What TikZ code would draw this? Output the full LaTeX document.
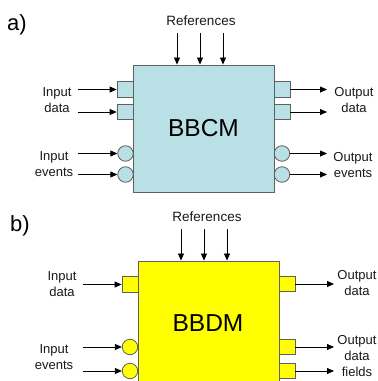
\documentclass[tikz,border=0pt]{standalone}
\usepackage{fontspec}
\setmainfont{Liberation Sans}
\usetikzlibrary{arrows.meta}
\definecolor{bbcm}{RGB}{185,224,228}
\definecolor{bbdm}{RGB}{255,255,0}
\definecolor{edge}{RGB}{95,95,95}
\definecolor{txt}{RGB}{25,25,25}
\begin{document}
\begin{tikzpicture}[x=1pt,y=-1pt,
  lbl/.style={inner sep=0pt, align=center, anchor=north, text=txt, font=\fontsize{13}{16}\selectfont},
  reflbl/.style={inner sep=0pt, text=txt, font=\fontsize{13.5}{16}\selectfont},
  tag/.style={inner sep=0pt, anchor=base west, text=black, font=\fontsize{22}{24}\selectfont},
  block/.style={draw=edge, line width=0.9pt, minimum width=141pt, minimum height=127pt, inner sep=0pt, font=\fontsize{24.5}{28}\selectfont},
  bigtxt/.style={inner sep=0pt, font=\fontsize{24.5}{28}\selectfont},
  sqport/.style={draw=edge, line width=0.8pt, minimum width=16pt, minimum height=15.5pt, inner sep=0pt},
  ciport/.style={draw=edge, line width=0.8pt, circle, minimum size=15.5pt, inner sep=0pt},
  arr/.style={-{Triangle[length=7pt,width=6pt]}, line width=0.8pt, draw=black}
]
\useasboundingbox (0,0) rectangle (378,381);
\clip (0,0) rectangle (378,381);
\fill[white] (0,0) rectangle (378,381);

% ---------- a) ----------
\node[tag] (ta) at (7,30) {a)};
\node[reflbl] (refa) at (201,20.5) {References};
\node[block, fill=bbcm] (A) at (203.5,128.5) {BBCM};

\node[sqport, fill=bbcm] (ai1) at (125,89.5) {};
\node[sqport, fill=bbcm] (ai2) at (125,112) {};
\node[ciport, fill=bbcm] (ae1) at (125.5,153.5) {};
\node[ciport, fill=bbcm] (ae2) at (125.5,174.5) {};
\node[sqport, fill=bbcm] (ao1) at (282,89.5) {};
\node[sqport, fill=bbcm] (ao2) at (282,112) {};
\node[ciport, fill=bbcm] (aoe1) at (282,153.5) {};
\node[ciport, fill=bbcm] (aoe2) at (282,174.5) {};

\node[lbl] (lai1) at (57,87) {Input\\data};
\node[lbl] (lae1) at (54,151) {Input\\events};
\node[lbl] (lao1) at (354,87) {Output\\data};
\node[lbl] (lao2) at (353,152) {Output\\events};

\coordinate (sai1) at (78,89.5);
\coordinate (sai2) at (78,112);
\coordinate (sae1) at (78,153.5);
\coordinate (sae2) at (78,174.5);
\coordinate (eao1) at (327,89.5);
\coordinate (eao2) at (327,112);
\coordinate (eaoe1) at (327,153.5);
\coordinate (eaoe2) at (327,174.5);
\draw[arr] (sai1) -- (ai1.west);
\draw[arr] (sai2) -- (ai2.west);
\draw[arr] (sae1) -- (ae1.west);
\draw[arr] (sae2) -- (ae2.west);
\draw[arr] (ao1.east) -- (eao1);
\draw[arr] (ao2.east) -- (eao2);
\draw[arr] (aoe1.east) -- (eaoe1);
\draw[arr] (aoe2.east) -- (eaoe2);

\coordinate (ra1) at (177,33);
\coordinate (ra2) at (200,33);
\coordinate (ra3) at (223,33);
\draw[arr] (ra1) -- (ra1 |- A.north);
\draw[arr] (ra2) -- (ra2 |- A.north);
\draw[arr] (ra3) -- (ra3 |- A.north);

% ---------- b) ----------
\node[tag] (tb) at (10,231.5) {b)};
\node[reflbl] (refb) at (207,217) {References};
\node[block, fill=bbdm, minimum height=145pt] (B) at (208.5,333.5) {};
\node[bigtxt] (Bt) at (208,323) {BBDM};

\node[sqport, fill=bbdm] (bi1) at (130,284.5) {};
\node[ciport, fill=bbdm] (be1) at (130,347) {};
\node[ciport, fill=bbdm] (be2) at (130,371) {};
\node[sqport, fill=bbdm] (bo1) at (287,284) {};
\node[sqport, fill=bbdm] (bo2) at (287,347) {};
\node[sqport, fill=bbdm] (bo3) at (287,371) {};

\node[lbl] (lbi1) at (62,271) {Input\\data};
\node[lbl] (lbe1) at (54,344) {Input\\events};
\node[lbl] (lbo1) at (357,270) {Output\\data};
\node[lbl] (lbo2) at (357,335) {Output\\data\\fields};

\coordinate (sbi1) at (83,284.5);
\coordinate (sbe1) at (83,347);
\coordinate (sbe2) at (83,371);
\coordinate (ebo1) at (334,284);
\coordinate (ebo2) at (334,347);
\coordinate (ebo3) at (334,371);
\draw[arr] (sbi1) -- (bi1.west);
\draw[arr] (sbe1) -- (be1.west);
\draw[arr] (sbe2) -- (be2.west);
\draw[arr] (bo1.east) -- (ebo1);
\draw[arr] (bo2.east) -- (ebo2);
\draw[arr] (bo3.east) -- (ebo3);

\coordinate (rb1) at (181,229);
\coordinate (rb2) at (204,229);
\coordinate (rb3) at (227,229);
\draw[arr] (rb1) -- (rb1 |- B.north);
\draw[arr] (rb2) -- (rb2 |- B.north);
\draw[arr] (rb3) -- (rb3 |- B.north);
\end{tikzpicture}
\end{document}
